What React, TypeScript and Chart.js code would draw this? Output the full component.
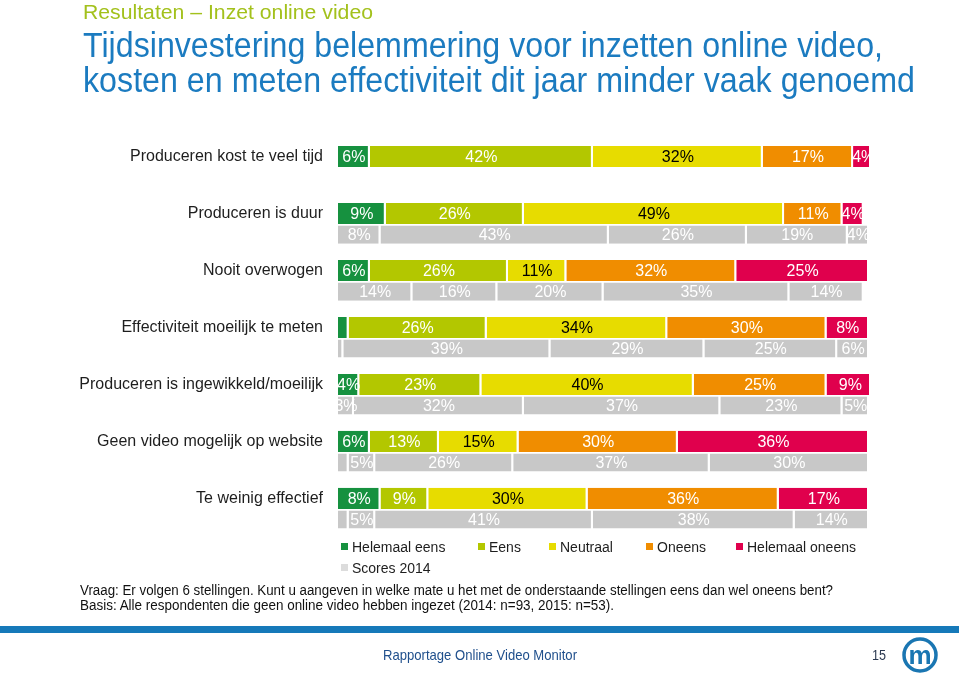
import React, { useEffect, useRef } from 'react';
import { Chart, registerables } from 'chart.js';

Chart.register(...registerables);

// ---------- data ----------
const categories = [
  'Produceren kost te veel tijd',
  'Produceren is duur',
  'Nooit overwogen',
  'Effectiviteit moeilijk te meten',
  'Produceren is ingewikkeld/moeilijk',
  'Geen video mogelijk op website',
  'Te weinig effectief',
];

const seriesNames = ['Helemaal eens', 'Eens', 'Neutraal', 'Oneens', 'Helemaal oneens'];
const scoresName = 'Scores 2014';

// 2015 scores (%)
const helemaalEens2015 = [6, 9, 6, 2, 4, 6, 8];
const eens2015 = [42, 26, 26, 26, 23, 13, 9];
const neutraal2015 = [32, 49, 11, 34, 40, 15, 30];
const oneens2015 = [17, 11, 32, 30, 25, 30, 36];
const helemaalOneens2015 = [4, 4, 25, 8, 9, 36, 17];

// 2014 scores (%), first statement not asked in 2014
const helemaalEens2014 = [null, 8, 14, 1, 3, 2, 2];
const eens2014 = [null, 43, 16, 39, 32, 5, 5];
const neutraal2014 = [null, 26, 20, 29, 37, 26, 41];
const oneens2014 = [null, 19, 35, 25, 23, 37, 38];
const helemaalOneens2014 = [null, 4, 14, 6, 5, 30, 14];

const xTicksMax = 100;

// ---------- styles ----------
const seriesColors = ['#16913f', '#b3c700', '#e7dc00', '#f08d00', '#e0004d'];
const labelColors = ['#ffffff', '#ffffff', '#000000', '#ffffff', '#ffffff'];
const grey = '#c8c8c8';
const legendGrey = '#dcdcdc';
const FONT = '"Liberation Sans", Arial, sans-serif';

const labelPlugin = {
  id: 'segLabels',
  afterDatasetsDraw(chart: any) {
    const { ctx, chartArea } = chart;
    ctx.save();
    ctx.beginPath();
    ctx.rect(chartArea.left, chartArea.top, chartArea.right - chartArea.left, chartArea.bottom - chartArea.top);
    ctx.clip();
    ctx.font = '16px ' + FONT;
    ctx.textAlign = 'center';
    ctx.textBaseline = 'middle';
    chart.data.datasets.forEach((ds: any, i: number) => {
      const meta = chart.getDatasetMeta(i);
      meta.data.forEach((el: any, j: number) => {
        const v = ds.data[j];
        if (v == null || v < 3) return;
        const p = el.getProps(['x', 'base', 'y'], true);
        ctx.fillStyle = ds.labelColor;
        ctx.fillText(v + '%', (p.x + p.base) / 2, p.y + 1);
      });
    });
    ctx.restore();
  },
};

export default function App() {
  const ref = useRef<HTMLCanvasElement | null>(null);

  useEffect(() => {
    if (!ref.current) return;
    const data2015 = [helemaalEens2015, eens2015, neutraal2015, oneens2015, helemaalOneens2015];
    const data2014 = [helemaalEens2014, eens2014, neutraal2014, oneens2014, helemaalOneens2014];
    const datasets: any[] = [];
    data2015.forEach((d, i) => {
      datasets.push({
        label: seriesNames[i],
        data: d,
        stack: '2015',
        backgroundColor: seriesColors[i],
        borderColor: '#ffffff',
        borderWidth: { left: 0, right: 2, top: 0, bottom: 0 },
        borderSkipped: false,
        barPercentage: 1,
        categoryPercentage: 0.74,
        clip: 0,
        labelColor: labelColors[i],
      });
    });
    data2014.forEach((d, i) => {
      datasets.push({
        label: scoresName + ' ' + seriesNames[i],
        data: d,
        stack: '2014',
        backgroundColor: grey,
        borderColor: '#ffffff',
        borderWidth: { left: 0, right: 2, top: 0, bottom: 0 },
        borderSkipped: false,
        barPercentage: 0.86,
        categoryPercentage: 0.74,
        clip: 0,
        labelColor: '#ffffff',
      });
    });

    const chart = new Chart(ref.current, {
      type: 'bar',
      data: { labels: categories, datasets },
      options: {
        animation: false,
        responsive: false,
        devicePixelRatio: 1,
        indexAxis: 'y',
        layout: { padding: { top: 24.6, bottom: 24.6, left: 0, right: 11 } },
        plugins: { legend: { display: false }, tooltip: { enabled: false } },
        scales: {
          x: { stacked: true, min: 0, max: xTicksMax, display: false },
          y: {
            grid: { display: false, drawTicks: false },
            border: { display: false },
            ticks: {
              autoSkip: false,
              padding: 15,
              labelOffset: -10.5,
              color: '#1e1e1e',
              font: { family: FONT, size: 16 },
            },
            afterFit: (s: any) => {
              s.width = 338;
            },
          },
        },
      } as any,
      plugins: [labelPlugin],
    });
    return () => chart.destroy();
  }, []);

  const legendItems = [
    { name: seriesNames[0], color: seriesColors[0], x: 341, y: 547 },
    { name: seriesNames[1], color: seriesColors[1], x: 478, y: 547 },
    { name: seriesNames[2], color: seriesColors[2], x: 549, y: 547 },
    { name: seriesNames[3], color: seriesColors[3], x: 646, y: 547 },
    { name: seriesNames[4], color: seriesColors[4], x: 736, y: 547 },
    { name: scoresName, color: legendGrey, x: 341, y: 568 },
  ];

  return (
    <div style={{ position: 'absolute', left: 0, top: 0, width: 959, height: 676, background: '#fff', overflow: 'hidden' }}>
      <canvas ref={ref} width={880} height={448} style={{ position: 'absolute', left: 0, top: 114, width: 880, height: 448 }} />
      <svg width={959} height={676} style={{ position: 'absolute', left: 0, top: 0, pointerEvents: 'none' }} fontFamily={FONT}>
        <text x={83} y={19} fontSize={21} fill="#a3c11c" textLength={290} lengthAdjust="spacingAndGlyphs">
          Resultaten – Inzet online video
        </text>
        <text x={83} y={57} fontSize={35} fill="#1b7bc0" textLength={800} lengthAdjust="spacingAndGlyphs">
          Tijdsinvestering belemmering voor inzetten online video,
        </text>
        <text x={83} y={92} fontSize={35} fill="#1b7bc0" textLength={832} lengthAdjust="spacingAndGlyphs">
          kosten en meten effectiviteit dit jaar minder vaak genoemd
        </text>

        {legendItems.map((it) => (
          <g key={it.name}>
            <rect x={it.x} y={it.y - 4} width={7} height={7} fill={it.color} />
            <text x={it.x + 11} y={it.y + 5} fontSize={14} fill="#1e1e1e">
              {it.name}
            </text>
          </g>
        ))}

        <text x={80} y={595} fontSize={14} fill="#111" textLength={753} lengthAdjust="spacingAndGlyphs">
          Vraag: Er volgen 6 stellingen. Kunt u aangeven in welke mate u het met de onderstaande stellingen eens dan wel oneens bent?
        </text>
        <text x={80} y={610} fontSize={14} fill="#111" textLength={534} lengthAdjust="spacingAndGlyphs">
          Basis: Alle respondenten die geen online video hebben ingezet (2014: n=93, 2015: n=53).
        </text>

        <rect x={0} y={626} width={959} height={7} fill="#1679b9" />

        <text x={383} y={660} fontSize={15} fill="#1f4f8c" textLength={194} lengthAdjust="spacingAndGlyphs">
          Rapportage Online Video Monitor
        </text>
        <text x={872} y={660} fontSize={15} fill="#2b3950" textLength={14} lengthAdjust="spacingAndGlyphs">
          15
        </text>
        <circle cx={920} cy={655} r={16} fill="#fff" stroke="#1a76b2" strokeWidth={3.5} />
        <text x={920} y={664} fontSize={26} fontWeight="bold" fill="#1a76b2" textAnchor="middle">
          m
        </text>
      </svg>
    </div>
  );
}
